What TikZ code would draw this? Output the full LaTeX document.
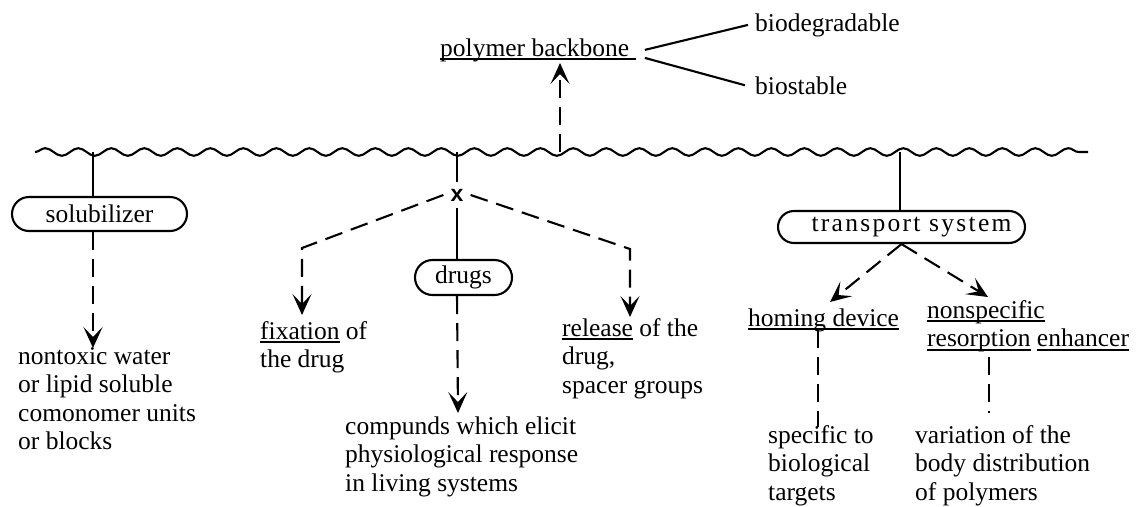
\documentclass[tikz,border=0pt]{standalone}
\usepackage{fontspec}
\setmainfont{Liberation Serif}
\newfontfamily\xfont{Liberation Sans}
\usetikzlibrary{arrows.meta,decorations.pathmorphing,shapes.misc}
\newsavebox{\ulbox}
\newcommand{\myul}[1]{\sbox{\ulbox}{#1}\rlap{\rule[-4pt]{\wd\ulbox}{1.6pt}}\usebox{\ulbox}}
\begin{document}
\begin{tikzpicture}[x=1pt,y=-1pt,
  txt/.style={font=\fontsize{25.5}{28.5}\selectfont, inner sep=0pt, align=left, anchor=base west},
  pill/.style={rounded rectangle, draw, line width=2.1pt, inner sep=0pt, font=\fontsize{25.5}{28.5}\selectfont},
  ln/.style={line width=2.1pt},
  dsh/.style={line width=2.1pt, dash pattern=on 18pt off 9pt},
  arr/.style={-{Stealth[length=21pt,width=19pt,inset=10pt]}}]
\useasboundingbox (0,0) rectangle (1139,506);
% backbone
\draw[ln, decorate, decoration={snake, segment length=33pt, amplitude=3.8pt}] (35,152) -- (1088,152);
\coordinate (w1) at (93,152);
\coordinate (w2) at (457,152);
\coordinate (w3) at (560,152);
\coordinate (w4) at (900,152);
% boxes
\node[pill, minimum width=175pt, minimum height=34pt] (sol) at (99.5,214) {solubilizer};
\node[pill, minimum width=97pt, minimum height=35pt] (drugs) at (463.5,277.5) {drugs};
\node[pill, minimum width=247pt, minimum height=32pt] (ts) at (901.5,227) {\hspace*{20pt}\addfontfeatures{LetterSpace=9}transport system};
\node[font=\xfont\bfseries\fontsize{23}{23}\selectfont, inner sep=7pt] (x) at (457,195) {x};
% texts (base = baseline of last line)
\node[txt] (nontox) at (18,449.5) {nontoxic water\\or lipid soluble\\comonomer units\\or blocks};
\node[txt] (fix) at (260,367.5) {\myul{fixation} of\\the drug};
\node[txt] (rel) at (562,393) {\myul{release} of the\\drug,\\spacer groups};
\node[txt] (comp) at (345,491) {compunds which elicit\\physiological response\\in living systems};
\node[txt] (spec) at (768,500) {specific to\\biological\\targets};
\node[txt] (var) at (915,500) {variation of the\\body distribution\\of polymers};
\node[txt] (hom) at (748,326) {\myul{homing device}};
\node[txt] (nons) at (927,346.5) {\myul{nonspecific}\\\myul{resorption} \myul{enhancer}};
\node[txt] (pb) at (440,56) {\myul{polymer backbone\ }};
\node[txt] (bd) at (755,31) {biodegradable};
\node[txt] (bs) at (755,94) {biostable};
% arrow end coordinates
\coordinate (t1) at (93,348);
\coordinate (c2) at (302,248);
\coordinate (t2) at (302,315);
\coordinate (c3) at (630,249);
\coordinate (t3) at (630,317);
\coordinate (t4) at (458,413);
\coordinate (t5) at (560,63);
\coordinate (t6) at (830,302);
\coordinate (t7) at (988,297);
\coordinate (h1) at (818,330);
\coordinate (h2) at (818,427);
\coordinate (n1) at (989,357);
\coordinate (n2) at (989,413);
% connectors
\draw[ln] (w1) -- (w1 |- sol.north);
\draw[dsh,arr] (w1 |- sol.south) -- (t1);
\draw[ln] (w2) -- (x.north);
\draw[ln] (x.south) -- (x.south |- drugs.north);
\draw[dsh,arr] (x.west) -- (c2) -- (t2);
\draw[dsh,arr] (x.east) -- (c3) -- (t3);
\draw[dsh,arr] (x |- drugs.south) -- (t4);
\draw[dsh,arr] (w3) -- (t5);
\draw[ln] ([xshift=9pt]pb.east) -- ([xshift=-7pt]bd.west);
\draw[ln] ([xshift=9pt,yshift=-8pt]pb.east) -- ([xshift=-10pt]bs.west);
\draw[ln] (w4) -- (w4 |- ts.north);
\draw[dsh,arr] (ts.south) -- (t6);
\draw[dsh,arr] (ts.south) -- (t7);
\draw[dsh] (h1) -- (h2);
\draw[dsh] (n1) -- (n2);
\end{tikzpicture}
\end{document}
